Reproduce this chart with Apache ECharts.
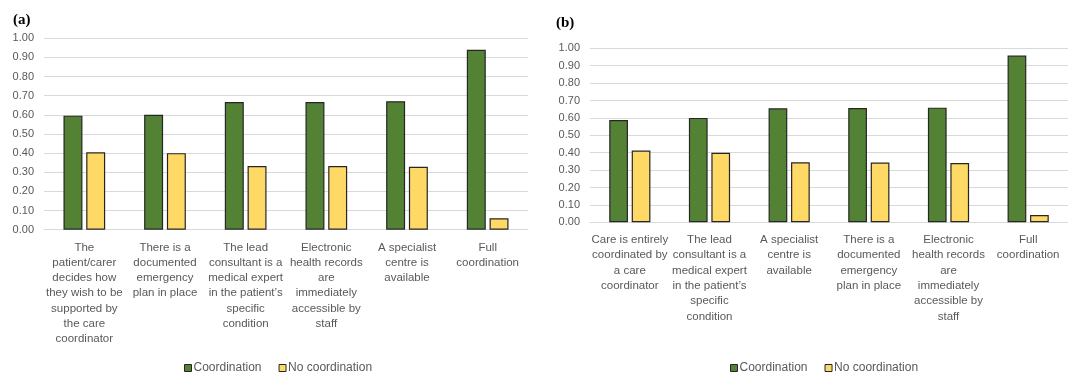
<!DOCTYPE html>
<html>
<head>
<meta charset="utf-8">
<script src="https://cdn.jsdelivr.net/npm/echarts@6/dist/echarts.min.js"></script>
<style>
  html, body { margin: 0; padding: 0; background: #fff; }
  #chart { width: 1068px; height: 375px; }
</style>
</head>
<body>
<div id="chart"></div>
<script>
// Panel (a)
const categoriesA = [
  'The\npatient/carer\ndecides how\nthey wish to be\nsupported by\nthe care\ncoordinator',
  'There is a\ndocumented\nemergency\nplan in place',
  'The lead\nconsultant is a\nmedical expert\nin the patient\u2019s\nspecific\ncondition',
  'Electronic\nhealth records\nare\nimmediately\naccessible by\nstaff',
  'A specialist\ncentre is\navailable',
  'Full\ncoordination'
];
const coordinationA = [0.596, 0.600, 0.667, 0.667, 0.671, 0.940];
const noCoordinationA = [0.404, 0.400, 0.333, 0.333, 0.329, 0.060];

// Panel (b)
const categoriesB = [
  'Care is entirely\ncoordinated by\na care\ncoordinator',
  'The lead\nconsultant is a\nmedical expert\nin the patient\u2019s\nspecific\ncondition',
  'A specialist\ncentre is\navailable',
  'There is a\ndocumented\nemergency\nplan in place',
  'Electronic\nhealth records\nare\nimmediately\naccessible by\nstaff',
  'Full\ncoordination'
];
const coordinationB = [0.588, 0.600, 0.655, 0.657, 0.659, 0.958];
const noCoordinationB = [0.412, 0.400, 0.345, 0.343, 0.341, 0.042];

const yTicks = { min: 0, max: 1, interval: 0.1 };
const panelTitles = ['(a)', '(b)'];
const seriesNames = ['Coordination', 'No coordination'];

const GREEN = '#548235';
const YELLOW = '#FFD966';
const EDGE = '#262626';
const TEXT = '#595959';
const FONT = '"Liberation Sans", Arial, sans-serif';

function xAxisFor(gridIndex, cats) {
  return {
    type: 'category', gridIndex, data: cats,
    axisLine: { lineStyle: { color: '#D9D9D9', width: 1 } },
    axisTick: { show: false },
    axisLabel: { color: TEXT, fontFamily: FONT, fontSize: 11.5, lineHeight: 15.3, margin: 10, interval: 0 }
  };
}
function yAxisFor(gridIndex) {
  return {
    type: 'value', gridIndex, min: yTicks.min, max: yTicks.max, interval: yTicks.interval,
    axisLine: { show: false }, axisTick: { show: false },
    splitLine: { lineStyle: { color: '#D9D9D9', width: 1 } },
    axisLabel: { color: TEXT, fontFamily: FONT, fontSize: 11, margin: 10,
      formatter: v => v.toFixed(2) }
  };
}
function barSeries(name, data, color, idx) {
  return {
    type: 'bar', name, data, xAxisIndex: idx, yAxisIndex: idx,
    barWidth: '23.5%', barGap: '20%',
    itemStyle: { color, borderColor: EDGE, borderWidth: 1.2 },
    emphasis: { disabled: true }
  };
}
const legendBase = {
  icon: 'rect', padding: 0,
  itemWidth: 7, itemHeight: 7, itemGap: 17,
  textStyle: { color: TEXT, fontFamily: FONT, fontSize: 12, padding: [0, 0, 0, -3] },
  data: seriesNames.map((n, i) => ({ name: n, itemStyle: { color: i ? YELLOW : GREEN, borderColor: EDGE, borderWidth: 1 } }))
};

const chart = echarts.init(document.getElementById('chart'), null, { renderer: 'canvas' });
chart.setOption({
  animation: false,
  backgroundColor: '#fff',
  title: [
    { text: panelTitles[0], left: 8, top: 8, textStyle: { fontFamily: '"Liberation Serif", serif', fontWeight: 'bold', fontSize: 15, color: '#000' } },
    { text: panelTitles[1], left: 551, top: 11, textStyle: { fontFamily: '"Liberation Serif", serif', fontWeight: 'bold', fontSize: 15, color: '#000' } }
  ],
  legend: [
    Object.assign({}, legendBase, { left: 184, top: 362 }),
    Object.assign({}, legendBase, { left: 730, top: 362 })
  ],
  grid: [
    { left: 44, top: 38.3, width: 484, height: 191.4 },
    { left: 590, top: 48.3, width: 483, height: 174 }
  ],
  xAxis: [xAxisFor(0, categoriesA), xAxisFor(1, categoriesB)],
  yAxis: [yAxisFor(0), yAxisFor(1)],
  series: [
    barSeries(seriesNames[0], coordinationA, GREEN, 0),
    barSeries(seriesNames[1], noCoordinationA, YELLOW, 0),
    barSeries(seriesNames[0], coordinationB, GREEN, 1),
    barSeries(seriesNames[1], noCoordinationB, YELLOW, 1)
  ]
});
</script>
</body>
</html>
